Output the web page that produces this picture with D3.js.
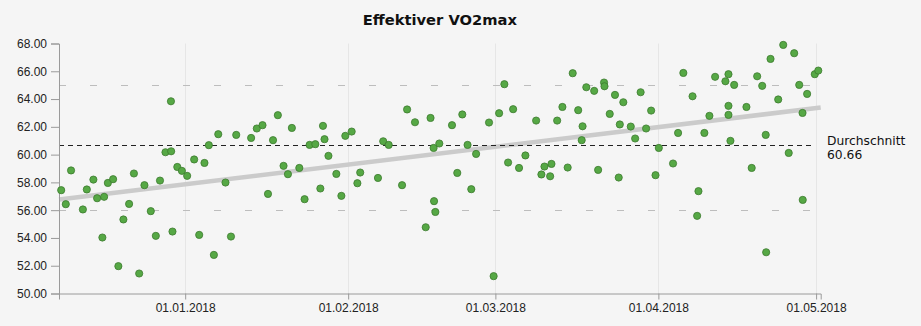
<!DOCTYPE html>
<html><head><meta charset="utf-8">
<script src="https://cdn.jsdelivr.net/npm/d3@7"></script>
<style>
html,body{margin:0;padding:0;background:#f5f5f5;}
svg{display:block;}
</style></head>
<body>
<svg id="chart" width="921" height="326"></svg>
<script>
const title = "Effektiver VO2max";
const dates = [
"2017-12-08T10","2017-12-09T07","2017-12-10T07","2017-12-12T13","2017-12-13T07","2017-12-14T13","2017-12-15T06","2017-12-16T06","2017-12-16T14","2017-12-17T07",
"2017-12-18T07","2017-12-19T07","2017-12-20T06","2017-12-21T08","2017-12-22T06","2017-12-23T06","2017-12-24T06","2017-12-25T11","2017-12-26T10","2017-12-27T05",
"2017-12-28T06","2017-12-29T07","2017-12-29T08","2017-12-29T14","2017-12-30T12","2017-12-31T09","2018-01-01T09","2018-01-02T17","2018-01-03T16","2018-01-04T16",
"2018-01-05T12","2018-01-06T11","2018-01-07T07","2018-01-08T16","2018-01-09T17","2018-01-10T17","2018-01-13T13","2018-01-14T15","2018-01-15T17","2018-01-16T18",
"2018-01-17T17","2018-01-18T15","2018-01-19T17","2018-01-20T13","2018-01-21T07","2018-01-22T17","2018-01-23T17","2018-01-24T16","2018-01-25T18","2018-01-26T17",
"2018-01-27T05","2018-01-27T12","2018-01-28T06","2018-01-29T18","2018-01-30T17","2018-01-31T11","2018-02-01T16","2018-02-02T18","2018-02-03T07","2018-02-06T16",
"2018-02-07T16","2018-02-08T17","2018-02-11T06","2018-02-12T05","2018-02-13T17","2018-02-15T18","2018-02-16T16","2018-02-17T06","2018-02-17T08","2018-02-17T14",
"2018-02-18T08","2018-02-20T18","2018-02-21T18","2018-02-22T17","2018-02-23T17","2018-02-24T10","2018-02-25T08","2018-02-27T19","2018-02-28T16","2018-03-01T17",
"2018-03-02T17","2018-03-03T10","2018-03-04T09","2018-03-05T12","2018-03-06T17","2018-03-08T18","2018-03-09T18","2018-03-10T08","2018-03-11T10","2018-03-11T16",
"2018-03-12T18","2018-03-13T18","2018-03-14T18","2018-03-15T17","2018-03-16T18","2018-03-17T10","2018-03-17T14","2018-03-18T07","2018-03-19T19","2018-03-20T13",
"2018-03-21T16","2018-03-21T18","2018-03-22T18","2018-03-23T18","2018-03-24T11","2018-03-24T16","2018-03-25T08","2018-03-26T18","2018-03-27T14","2018-03-28T15",
"2018-03-29T16","2018-03-30T15","2018-03-31T11","2018-04-01T02","2018-04-03T19","2018-04-04T18","2018-04-05T18","2018-04-07T12","2018-04-08T09","2018-04-08T15",
"2018-04-09T18","2018-04-10T17","2018-04-11T19","2018-04-13T18","2018-04-14T08","2018-04-14T08","2018-04-14T08","2018-04-14T17","2018-04-15T10","2018-04-17T18",
"2018-04-18T18","2018-04-19T19","2018-04-20T18","2018-04-21T10","2018-04-21T12","2018-04-22T08","2018-04-23T19","2018-04-24T18","2018-04-25T19","2018-04-26T20",
"2018-04-27T19","2018-04-28T10","2018-04-28T11","2018-04-29T07","2018-04-30T18","2018-05-01T10"
];
const values = [
57.44,56.43,58.86,56.05,57.49,58.20,56.86,54.03,56.96,57.96,
58.23,51.97,55.33,56.45,58.64,51.44,57.80,55.93,54.15,58.13,
60.17,63.84,60.24,54.46,59.11,58.83,58.47,59.65,54.22,59.40,
60.68,52.78,61.47,57.99,54.10,61.42,61.20,61.88,62.12,57.17,
61.04,62.84,59.19,58.59,61.92,59.04,56.79,60.70,60.75,57.56,
62.07,61.11,59.91,58.61,57.03,61.35,61.66,57.94,58.71,58.32,
60.96,60.70,57.80,63.25,62.33,54.77,62.64,60.48,56.65,55.87,
60.80,62.12,58.68,62.89,60.70,57.51,60.05,62.31,51.25,62.98,
65.07,59.43,63.27,59.04,59.94,62.45,58.57,59.14,58.44,59.33,
62.45,63.43,59.07,65.86,63.20,61.04,62.04,64.85,64.59,58.90,
65.19,64.92,62.93,64.30,58.35,62.17,63.77,62.02,61.16,64.49,
61.88,63.17,58.52,60.48,59.36,61.56,65.88,64.20,55.59,57.37,
61.56,62.79,65.60,65.28,65.79,63.51,62.86,60.99,65.02,63.43,
59.04,65.64,64.95,61.42,52.97,66.89,63.97,67.90,60.12,67.30,
65.02,63.00,56.74,64.37,65.79,66.05
];
const xDomain = ["2017-12-08T00","2018-05-01T21"];
const xTicks = ["2018-01-01T00","2018-02-01T00","2018-03-01T00","2018-04-01T00","2018-05-01T00"];
const yDomain = [50, 68];
const yTicks = [50, 52, 54, 56, 58, 60, 62, 64, 66, 68];
const trendValues = [56.77, 63.39];
const refLines = [65, 56];
const average = [60.66];
const averageLabel = ["Durchschnitt", "60.66"];

(function () {
const parse = d3.timeParse("%Y-%m-%dT%H");
const data = dates.map((d, i) => ({date: parse(d), value: values[i]}));

const svg = d3.select("#chart");
const pLeft = 59, pRight = 820.7, pTop = 43.5, pBottom = 293.5;

const x = d3.scaleTime().domain(xDomain.map(parse)).range([pLeft, pRight]);
const y = d3.scaleLinear().domain(yDomain).range([pBottom, pTop]);

// vertical grid
svg.append("g").selectAll("line").data(xTicks.map(parse)).join("line")
  .attr("x1", d => Math.round(x(d)) + 0.5).attr("x2", d => Math.round(x(d)) + 0.5)
  .attr("y1", pTop).attr("y2", pBottom)
  .attr("stroke", "#e6e6e6").attr("stroke-width", 1);

// reference dashed lines
svg.append("g").selectAll("line").data(refLines).join("line")
  .attr("x1", pLeft).attr("x2", pRight)
  .attr("y1", d => Math.round(y(d)) + 0.5).attr("y2", d => Math.round(y(d)) + 0.5)
  .attr("stroke", "#bdbdbd").attr("stroke-width", 1.2).attr("stroke-dasharray", "7,24");

// trend line
svg.append("line")
  .attr("x1", x(parse(xDomain[0]))).attr("x2", x(parse(xDomain[1])))
  .attr("y1", y(trendValues[0])).attr("y2", y(trendValues[1]))
  .attr("stroke", "#cbcbcb").attr("stroke-width", 4.5);

// average line
svg.append("line")
  .attr("x1", pLeft).attr("x2", 815)
  .attr("y1", Math.round(y(average[0])) + 0.5).attr("y2", Math.round(y(average[0])) + 0.5)
  .attr("stroke", "#222").attr("stroke-width", 1).attr("stroke-dasharray", "5,4");

svg.append("text").attr("x", 827).attr("y", y(average[0]))
  .attr("font-family", "DejaVu Sans, Verdana, sans-serif").attr("font-size", 12.3).attr("fill", "#111")
  .selectAll("tspan").data(averageLabel).join("tspan")
  .attr("x", 827).attr("dy", (d, i) => i === 0 ? 0 : 13.5).text(d => d);

// axes
const xAxis = svg.append("g").attr("transform", `translate(0,${pBottom})`)
  .call(d3.axisBottom(x).tickValues(xTicks.map(parse)).tickFormat(d3.timeFormat("%d.%m.%Y")).tickSize(6).tickPadding(4));
const yAxis = svg.append("g").attr("transform", `translate(${pLeft},0)`)
  .call(d3.axisLeft(y).tickValues(yTicks).tickFormat(d3.format(".2f")).tickSize(8).tickPadding(4));
[xAxis, yAxis].forEach(g => {
  g.selectAll("path,line").attr("stroke", "#9a9a9a");
  g.selectAll("text").attr("font-family", "Liberation Sans, Arial, sans-serif").attr("font-size", 12).attr("fill", "#222");
});

// points
svg.append("g").selectAll("circle").data(data).join("circle")
  .attr("cx", d => x(d.date)).attr("cy", d => y(d.value)).attr("r", 3.6)
  .attr("fill", "#56a845").attr("stroke", "#3c7a2f").attr("stroke-width", 0.8);

// title
svg.append("text").attr("x", (pLeft + pRight) / 2).attr("y", 25).attr("text-anchor", "middle")
  .attr("font-family", "DejaVu Sans, Verdana, sans-serif").attr("font-weight", "bold").attr("font-size", 14.7)
  .attr("fill", "#111").text(title);
})();
</script>
</body></html>
